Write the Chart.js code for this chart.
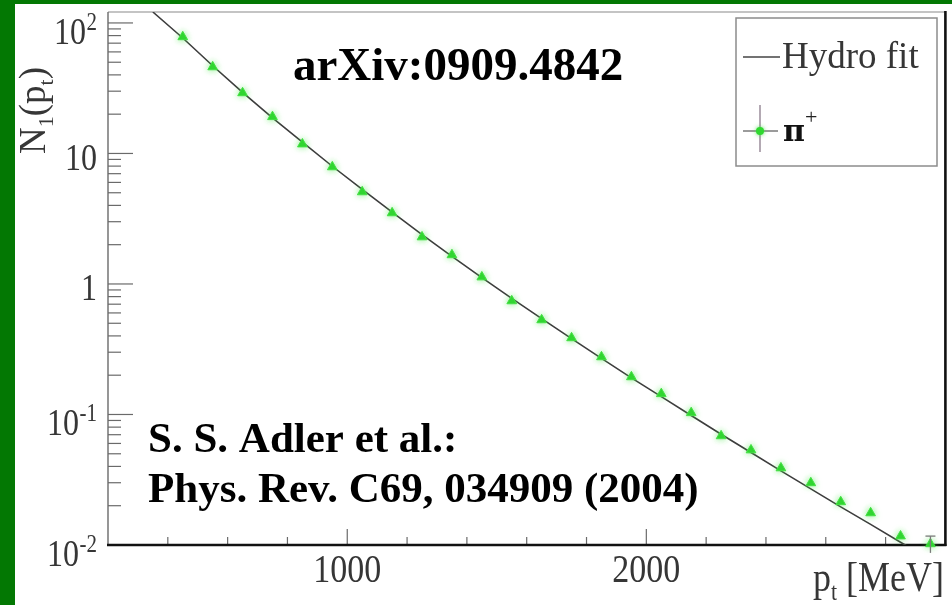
<!DOCTYPE html>
<html>
<head>
<meta charset="utf-8">
<script src="https://cdn.jsdelivr.net/npm/chart.js@4.4.1/dist/chart.umd.min.js"></script>
<style>
  html, body { margin: 0; padding: 0; width: 952px; height: 605px; overflow: hidden; background: #037803; }
  #panel { position: absolute; left: 15px; top: 4px; width: 937px; height: 601px; background: #ffffff; }
  #c { display: block; }
</style>
</head>
<body>
<div id="panel"><canvas id="c" width="937" height="601"></canvas></div>
<script>
// Transverse momentum bins (MeV) of the measured pi+ spectrum
const ptValues = [450, 550, 650, 750, 850, 950, 1050, 1150, 1250, 1350, 1450, 1550, 1650,
                  1750, 1850, 1950, 2050, 2150, 2250, 2350, 2450, 2550, 2650, 2750, 2850, 2950];
// Measured yield N1(pt)
const piYield = [78.2, 46.0, 29.1, 19.1, 11.8, 7.88, 5.07, 3.50, 2.29, 1.67, 1.13, 0.741, 0.530,
                 0.386, 0.276, 0.194, 0.144, 0.103, 0.0685, 0.0534, 0.0389, 0.0299, 0.0214, 0.0176, 0.0117, 0.0102];
// Statistical error (only the last bin is larger than the marker)
const piError = [null, null, null, null, null, null, null, null, null, null, null, null, null,
                 null, null, null, null, null, null, null, null, null, null, null, null, 0.0015];

// Hydrodynamic fit curve
const fitPt = [350, 450, 550, 650, 750, 850, 950, 1050, 1150, 1250, 1350, 1450, 1550, 1650,
               1750, 1850, 1950, 2050, 2150, 2250, 2350, 2450, 2550, 2650, 2750, 2850, 2950];
const fitYield = [121.3, 76.7, 47.0, 29.4, 18.7, 12.2, 7.98, 5.31, 3.55, 2.39, 1.63, 1.12, 0.776, 0.542,
                  0.381, 0.269, 0.191, 0.137, 0.0982, 0.0706, 0.0511, 0.0370, 0.0269, 0.0196, 0.0144, 0.0105, 0.0077];

// Axis ranges and tick labels
const xRange = [200, 3000];
const yRange = [0.01, 121.3];
const xMinorStep = 200;
const xLabelValues = [1000, 2000];
const xTickLabels = ['1000', '2000'];
const yDecades = [0.01, 0.1, 1, 10, 100];
const yTickBase = ['10', '10', '1', '10', '10'];
const yTickExp = ['-2', '-1', '', '', '2'];

const seriesNames = ['Hydro fit', 'π'];
const pionCharge = '+';
const topNote = 'arXiv:0909.4842';
const refLines = ['S. S. Adler et al.:', 'Phys. Rev. C69, 034909 (2004)'];

const SERIF = '"Liberation Serif", "Times New Roman", serif';
const AXIS_GREY = '#363636';

function sText(ctx, txt, x, y, size, sy, align, weight, color, family) {
  ctx.save();
  ctx.translate(x, y);
  ctx.scale(1, sy);
  ctx.font = (weight || 'normal') + ' ' + size + 'px ' + (family || SERIF);
  ctx.textAlign = align || 'left';
  ctx.textBaseline = 'alphabetic';
  ctx.fillStyle = color || AXIS_GREY;
  ctx.fillText(txt, 0, 0);
  ctx.restore();
}
function measure(ctx, txt, size, weight) {
  ctx.save();
  ctx.font = (weight || 'normal') + ' ' + size + 'px ' + SERIF;
  const w = ctx.measureText(txt).width;
  ctx.restore();
  return w;
}
function seg(ctx, x1, y1, x2, y2) {
  ctx.beginPath(); ctx.moveTo(x1, y1); ctx.lineTo(x2, y2); ctx.stroke();
}

// Frame, inward tick marks and tick labels
const axesPlugin = {
  id: 'rootAxes',
  beforeDatasetsDraw(chart) {
    const { ctx, chartArea: a, scales: { x, y } } = chart;
    ctx.save();
    ctx.strokeStyle = '#6a6a6a';
    ctx.lineWidth = 1.2;
    // y ticks (major + minor), drawn inside the frame
    yDecades.forEach((v) => {
      const py = y.getPixelForValue(v);
      seg(ctx, a.left, py, a.left + 25, py);
      for (let m = 2; m <= 9; m++) {
        const pm = y.getPixelForValue(v * m);
        if (pm >= a.top) seg(ctx, a.left, pm, a.left + 13, pm);
      }
    });
    // x ticks
    for (let v = xRange[0] + xMinorStep; v < xRange[1]; v += xMinorStep) {
      const px = x.getPixelForValue(v);
      const major = xLabelValues.includes(v);
      seg(ctx, px, a.bottom, px, a.bottom - (major ? 16 : 8));
    }
    // frame
    ctx.strokeStyle = '#8a8a8a'; ctx.lineWidth = 1.2;
    seg(ctx, a.left, a.top, a.right, a.top);
    ctx.strokeStyle = '#6a6a6a'; ctx.lineWidth = 1.4;
    seg(ctx, a.left, a.top, a.left, a.bottom);
    ctx.strokeStyle = '#111111'; ctx.lineWidth = 2.4;
    seg(ctx, a.left - 1, a.bottom, a.right + 1, a.bottom);
    ctx.lineWidth = 2.6;
    seg(ctx, a.right, a.top - 1, a.right, a.bottom + 1);
    ctx.restore();
  },
  afterDraw(chart) {
    const { ctx, chartArea: a, scales: { x, y } } = chart;
    const SY = 1.16;
    const labelRight = a.left - 11;
    // y tick labels
    yDecades.forEach((v, i) => {
      const py = y.getPixelForValue(v);
      if (yTickExp[i] === '') {
        sText(ctx, yTickBase[i], labelRight, py + 16.5, 32, SY, 'right');
      } else {
        const ew = measure(ctx, yTickExp[i], 21);
        sText(ctx, yTickExp[i], labelRight, py + 7, 21, SY, 'right');
        sText(ctx, yTickBase[i], labelRight - ew - 0.5, py + 21, 32, SY, 'right');
      }
    });
    // x tick labels
    xLabelValues.forEach((v, i) => {
      sText(ctx, xTickLabels[i], x.getPixelForValue(v), a.bottom + 37, 34, 1.17, 'center');
    });

    // y axis title N1(pt), rotated
    ctx.save();
    ctx.translate(30, 150);
    ctx.rotate(-Math.PI / 2);
    let cx = 0;
    const parts = [['N', 37, 0], ['1', 22, 8], ['(p', 37, 0], ['t', 22, 8], [')', 37, 0]];
    parts.forEach(([t, s, dy]) => {
      sText(ctx, t, cx, dy, s, 1, 'left');
      cx += measure(ctx, t, s);
    });
    ctx.restore();

    // x axis title pt [MeV]
    let tx = 798;
    const xparts = [['p', 36, 0], ['t', 22, 9], [' [MeV]', 36, 0]];
    const by = a.bottom + 46;
    xparts.forEach(([t, s, dy]) => {
      sText(ctx, t, tx, by + dy, s, 1.15, 'left');
      tx += measure(ctx, t, s);
    });

    // legend box
    const L = { x: 721, y: 14, w: 201, h: 148 };
    ctx.save();
    ctx.fillStyle = '#ffffff';
    ctx.fillRect(L.x, L.y, L.w, L.h);
    ctx.strokeStyle = '#8c8c8c'; ctx.lineWidth = 1.5;
    ctx.strokeRect(L.x, L.y, L.w, L.h);
    // fit entry
    ctx.strokeStyle = '#444444'; ctx.lineWidth = 1.5;
    seg(ctx, L.x + 7, L.y + 39, L.x + 44, L.y + 39);
    sText(ctx, seriesNames[0], L.x + 46, L.y + 50, 37, 1, 'left');
    // data entry: cross with marker
    const mx = L.x + 24, my = L.y + 113;
    ctx.strokeStyle = '#7a7a7a'; ctx.lineWidth = 1.3;
    seg(ctx, L.x + 7, my, L.x + 42, my);
    ctx.strokeStyle = '#8a7a8a';
    seg(ctx, mx, L.y + 87, mx, L.y + 134);
    ctx.fillStyle = '#2fd82f';
    ctx.shadowColor = 'rgba(60,220,60,0.8)'; ctx.shadowBlur = 4;
    ctx.beginPath(); ctx.arc(mx, my, 4, 0, Math.PI * 2); ctx.fill();
    ctx.shadowBlur = 0;
    sText(ctx, seriesNames[1], L.x + 47, L.y + 123, 30, 1, 'left', 'bold', '#111111', '"DejaVu Serif", serif');
    sText(ctx, pionCharge, L.x + 69, L.y + 106, 22, 1, 'left', 'normal', '#222222');
    ctx.restore();

    // annotations
    sText(ctx, topNote, 278, 76, 47, 1, 'left', 'bold', '#000000');
    sText(ctx, refLines[0], 133, 448, 43, 1, 'left', 'bold', '#000000');
    sText(ctx, refLines[1], 133, 498, 43, 1, 'left', 'bold', '#000000');
  }
};

// Vertical error bars with caps
const errorPlugin = {
  id: 'errorBars',
  afterDatasetsDraw(chart) {
    const { ctx, scales: { x, y } } = chart;
    ctx.save();
    ctx.strokeStyle = '#7a7a7a'; ctx.lineWidth = 1.3;
    ptValues.forEach((p, i) => {
      const e = piError[i];
      if (e == null) return;
      const px = x.getPixelForValue(p);
      const yTop = y.getPixelForValue(piYield[i] + e);
      const yBot = y.getPixelForValue(Math.max(piYield[i] - e, 1e-6));
      seg(ctx, px, yTop, px, Math.min(yBot, y.bottom + 8));
      seg(ctx, px - 5, yTop, px + 5, yTop);
    });
    ctx.restore();
  }
};

const markerGlow = {
  id: 'markerGlow',
  beforeDatasetDraw(chart, args) {
    if (args.index === 1) {
      chart.ctx.save();
      chart.ctx.shadowColor = 'rgba(70,230,70,0.6)';
      chart.ctx.shadowBlur = 6;
    }
  },
  afterDatasetDraw(chart, args) {
    if (args.index === 1) chart.ctx.restore();
  }
};

new Chart(document.getElementById('c'), {
  type: 'scatter',
  data: {
    datasets: [
      {
        label: seriesNames[0],
        data: fitPt.map((p, i) => ({ x: p, y: fitYield[i] })),
        showLine: true,
        borderColor: '#3e3e3e',
        borderWidth: 1.6,
        pointRadius: 0,
        fill: false,
        order: 2
      },
      {
        label: seriesNames[1] + pionCharge,
        data: ptValues.map((p, i) => ({ x: p, y: piYield[i] })),
        showLine: false,
        pointStyle: 'triangle',
        pointRadius: 5.6,
        backgroundColor: '#2ed42e',
        borderColor: '#44e044',
        borderWidth: 1,
        clip: false,
        order: 1
      }
    ]
  },
  options: {
    responsive: false,
    animation: false,
    devicePixelRatio: 1,
    layout: { padding: { top: 8, right: 6, left: 0, bottom: 0 } },
    plugins: { legend: { display: false }, tooltip: { enabled: false } },
    scales: {
      x: {
        type: 'linear',
        min: xRange[0], max: xRange[1],
        grid: { display: false },
        border: { display: false },
        ticks: { display: false },
        afterFit: s => { s.height = 60; }
      },
      y: {
        type: 'logarithmic',
        min: yRange[0], max: yRange[1],
        grid: { display: false },
        border: { display: false },
        ticks: { display: false },
        afterFit: s => { s.width = 93; }
      }
    }
  },
  plugins: [axesPlugin, errorPlugin, markerGlow]
});
</script>
</body>
</html>
